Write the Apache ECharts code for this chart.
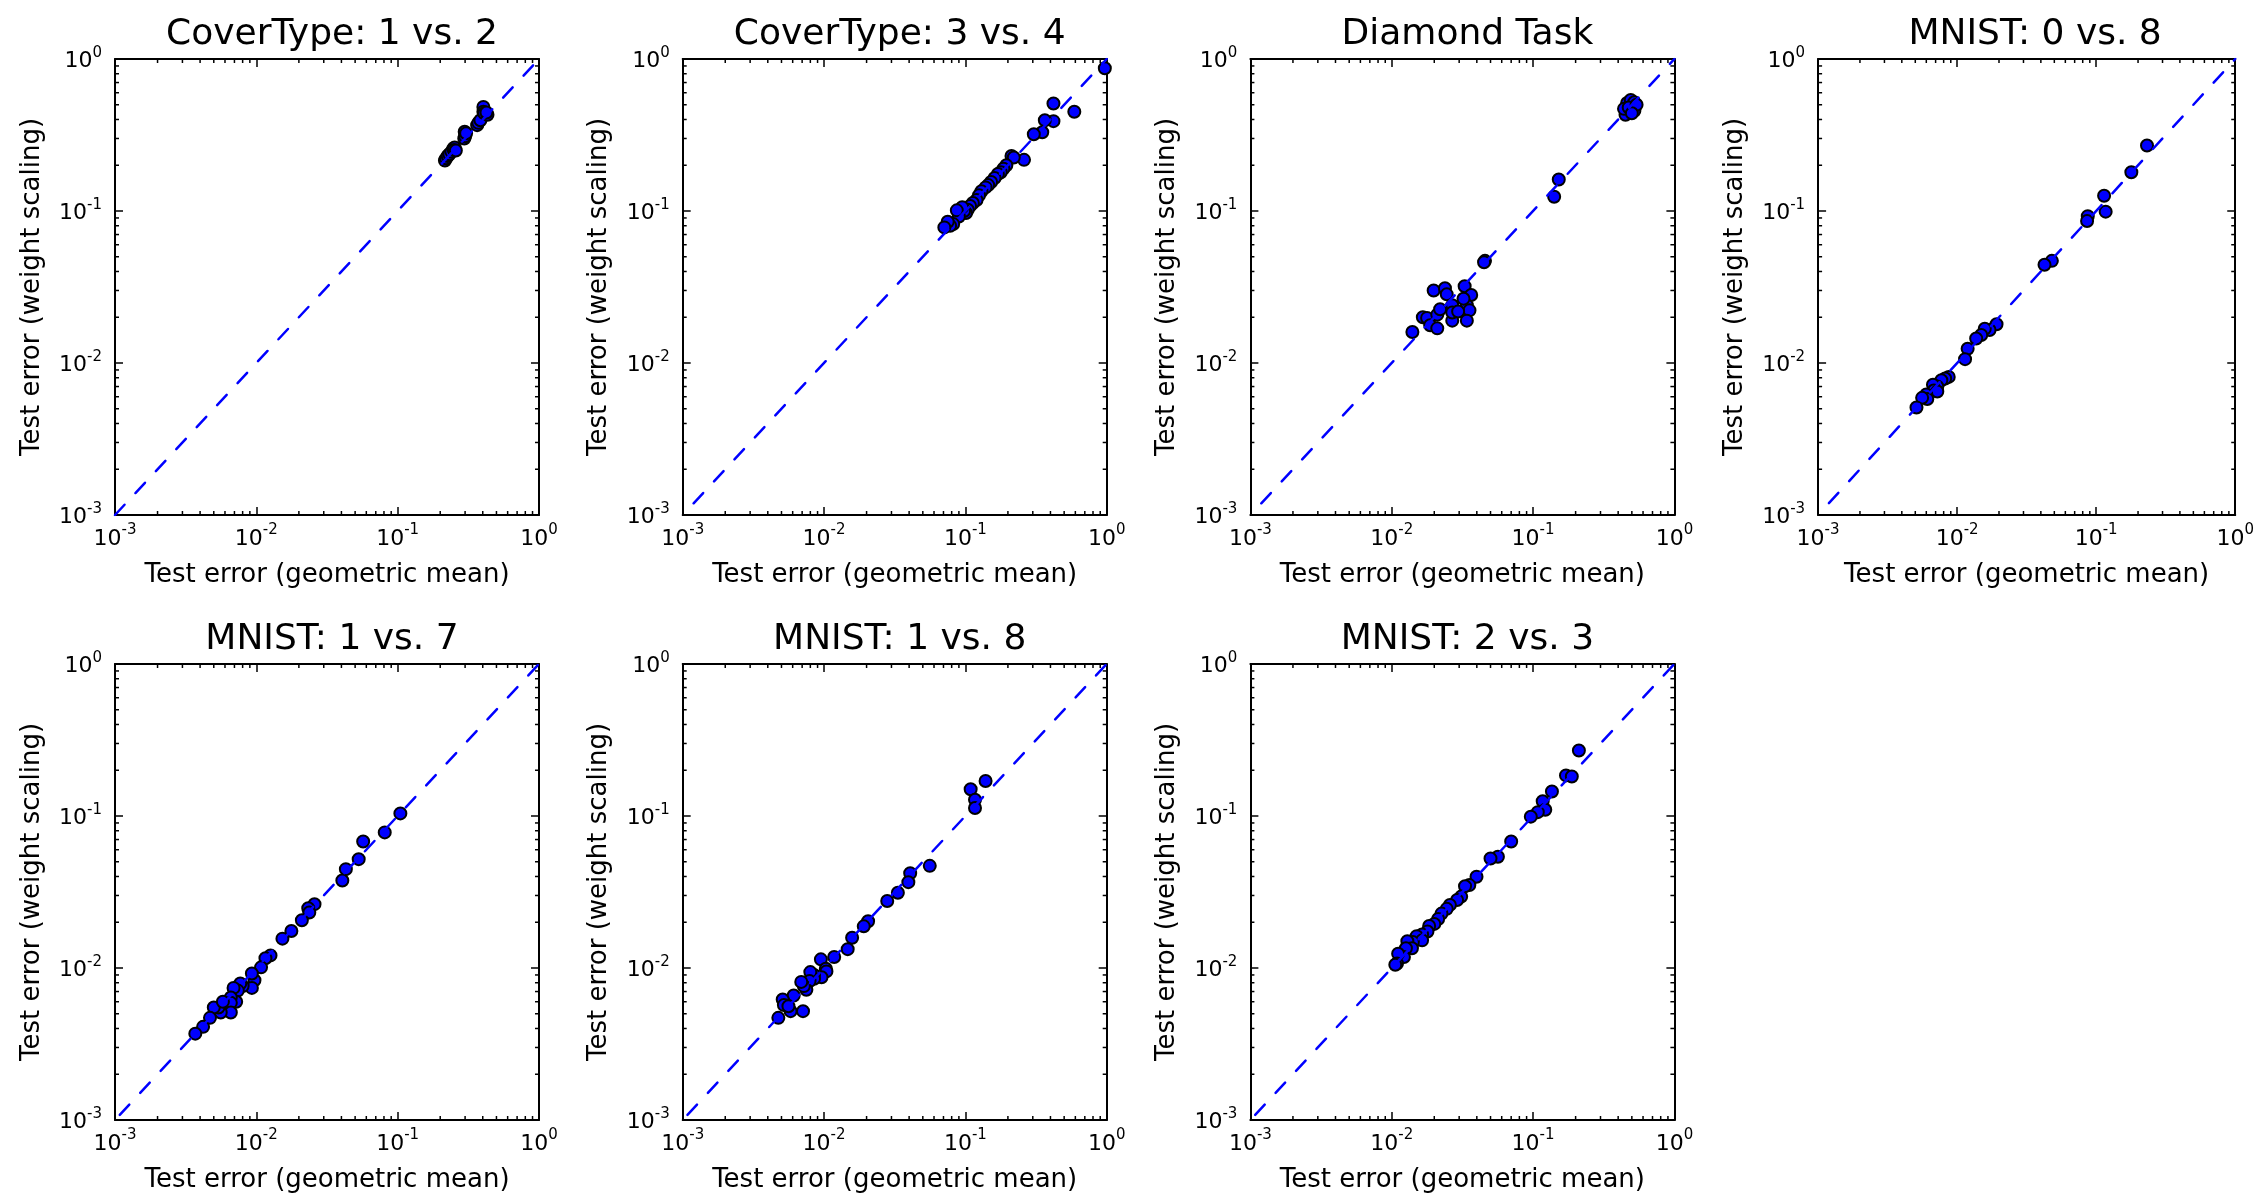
<!DOCTYPE html>
<html>
<head>
<meta charset="utf-8">
<script src="https://cdn.jsdelivr.net/npm/echarts@6/dist/echarts.min.js"></script>
<style>
  html, body { margin: 0; padding: 0; background: #fff; }
  #chart { width: 2257px; height: 1197px; }
</style>
</head>
<body>
<div id="chart"></div>
<script>
// panel titles
const titles = ['CoverType: 1 vs. 2', 'CoverType: 3 vs. 4', 'Diamond Task', 'MNIST: 0 vs. 8',
  'MNIST: 1 vs. 7', 'MNIST: 1 vs. 8', 'MNIST: 2 vs. 3']

// decade ticks shared by every axis
const decadeTicks = [0.001, 0.01, 0.1, 1]
const minorMults = [2, 3, 4, 5, 6, 7, 8, 9]

// [geometric mean, weight scaling] test errors
const coverType12 = [
  [0.216, 0.215], [0.220, 0.222], [0.226, 0.230], [0.232, 0.236], [0.240, 0.245], [0.248, 0.258],
  [0.253, 0.262], [0.250, 0.252], [0.258, 0.250], [0.296, 0.300], [0.300, 0.310], [0.298, 0.332],
  [0.305, 0.325], [0.365, 0.367], [0.372, 0.380], [0.385, 0.395], [0.404, 0.484], [0.404, 0.450],
  [0.410, 0.440], [0.432, 0.430], [0.425, 0.445]
]
const coverType34 = [
  [0.97, 0.87], [0.59, 0.45], [0.42, 0.51], [0.42, 0.39], [0.365, 0.395], [0.35, 0.33], [0.305, 0.32],
  [0.26, 0.217], [0.212, 0.23], [0.22, 0.225], [0.195, 0.2], [0.186, 0.19], [0.178, 0.18], [0.17, 0.175],
  [0.161, 0.165], [0.152, 0.155], [0.145, 0.148], [0.139, 0.143], [0.13, 0.135], [0.125, 0.127],
  [0.12, 0.118], [0.113, 0.113], [0.108, 0.108], [0.104, 0.102], [0.101, 0.097], [0.098, 0.1],
  [0.095, 0.106], [0.09, 0.092], [0.087, 0.101], [0.082, 0.082], [0.078, 0.08], [0.075, 0.085],
  [0.071, 0.078]
]
const diamond = [
  [0.463, 0.513], [0.491, 0.537], [0.52, 0.52], [0.451, 0.43], [0.521, 0.456], [0.44, 0.47],
  [0.475, 0.48], [0.54, 0.5], [0.5, 0.44], [0.152, 0.161], [0.141, 0.124], [0.0457, 0.047],
  [0.045, 0.046], [0.014, 0.016], [0.0166, 0.02], [0.0178, 0.0198], [0.0187, 0.0177], [0.021, 0.0169],
  [0.0198, 0.03], [0.0238, 0.031], [0.0245, 0.0283], [0.021, 0.0208], [0.022, 0.0226], [0.0268, 0.024],
  [0.0268, 0.019], [0.0268, 0.0215], [0.0328, 0.032], [0.0365, 0.028], [0.034, 0.024], [0.0355, 0.0222],
  [0.034, 0.019], [0.0322, 0.0265], [0.0295, 0.0218]
]
const mnist08 = [
  [0.232, 0.27], [0.179, 0.18], [0.114, 0.126], [0.117, 0.099], [0.087, 0.0925], [0.086, 0.086],
  [0.048, 0.047], [0.0425, 0.0443], [0.0192, 0.018], [0.0171, 0.0165], [0.0158, 0.0168], [0.0149, 0.0153],
  [0.0137, 0.0145], [0.0119, 0.0124], [0.0114, 0.0106], [0.0087, 0.0081], [0.0082, 0.0079],
  [0.0077, 0.0077], [0.0072, 0.007], [0.0067, 0.0072], [0.0068, 0.0066], [0.0072, 0.0065],
  [0.006, 0.0062], [0.0061, 0.0058], [0.0056, 0.0059], [0.0051, 0.0051]
]
const mnist17 = [
  [0.1045, 0.104], [0.081, 0.078], [0.057, 0.068], [0.053, 0.052], [0.043, 0.0447], [0.0406, 0.0376],
  [0.0258, 0.0263], [0.0233, 0.0247], [0.0237, 0.0232], [0.021, 0.0206], [0.0177, 0.0175],
  [0.0153, 0.0156], [0.0126, 0.0121], [0.0116, 0.0116], [0.0108, 0.0101], [0.0097, 0.0083],
  [0.0093, 0.0092], [0.0093, 0.0074], [0.008, 0.0076], [0.0077, 0.0079], [0.0074, 0.0071],
  [0.0069, 0.0074], [0.0072, 0.006], [0.0066, 0.0064], [0.0066, 0.0059], [0.0066, 0.0051],
  [0.0056, 0.0051], [0.0054, 0.0055], [0.005, 0.0055], [0.0058, 0.006], [0.0047, 0.0047],
  [0.0042, 0.0041], [0.0037, 0.0037]
]
const mnist18 = [
  [0.139, 0.17], [0.109, 0.15], [0.117, 0.128], [0.117, 0.113], [0.056, 0.047], [0.0407, 0.042],
  [0.0395, 0.0367], [0.0333, 0.0313], [0.028, 0.0276], [0.0205, 0.0203], [0.0191, 0.0188],
  [0.0158, 0.0158], [0.0147, 0.0133], [0.0118, 0.0118], [0.0095, 0.0114], [0.0103, 0.0099],
  [0.0104, 0.0095], [0.0096, 0.0087], [0.0085, 0.009], [0.0085, 0.0085], [0.008, 0.0094],
  [0.0079, 0.0082], [0.0075, 0.0072], [0.0072, 0.0076], [0.0069, 0.0081], [0.0071, 0.0052],
  [0.0061, 0.0066], [0.0058, 0.0052], [0.0051, 0.0062], [0.0052, 0.0057], [0.0056, 0.0056],
  [0.00475, 0.0047]
]
const mnist23 = [
  [0.211, 0.27], [0.171, 0.185], [0.188, 0.182], [0.136, 0.145], [0.117, 0.125], [0.122, 0.11],
  [0.108, 0.106], [0.0964, 0.099], [0.07, 0.068], [0.0564, 0.054], [0.05, 0.0525], [0.0398, 0.0398],
  [0.0354, 0.0351], [0.033, 0.0345], [0.031, 0.0295], [0.029, 0.028], [0.0258, 0.026], [0.0245, 0.0245],
  [0.0225, 0.0228], [0.0213, 0.021], [0.02, 0.0195], [0.0184, 0.0189], [0.0179, 0.0174],
  [0.0164, 0.0166], [0.015, 0.0162], [0.0164, 0.0152], [0.0141, 0.0148], [0.0129, 0.015],
  [0.0139, 0.0135], [0.0126, 0.0135], [0.0122, 0.0118], [0.0111, 0.0124], [0.0109, 0.0107],
  [0.0106, 0.0105]
]

const panels = [coverType12, coverType34, diamond, mnist08, mnist17, mnist18, mnist23]

// layout / style
const FONT = 'DejaVu Sans'
const dashOffsets = [0, 14, 14, 14, 23, 23, 23]
const boxW = 424
const boxH = 456
const colStep = 567.7

const minorTicks = []
decadeTicks.slice(0, 3).forEach(d => minorMults.forEach(m => minorTicks.push(m * d)))

function logLabel(v) {
  const e = Math.round(Math.log10(v))
  return '{b|10}{s|' + e + '}'
}
const labelRich = {
  b: { fontFamily: FONT, fontSize: 22, color: '#000', lineHeight: 27, verticalAlign: 'bottom' },
  s: { fontFamily: FONT, fontSize: 15, color: '#000', lineHeight: 16, verticalAlign: 'top' }
}

function makeAxis(gridIndex, position, withLabels, name, nameGap) {
  return {
    type: 'log',
    logBase: 10,
    min: decadeTicks[0],
    max: decadeTicks[decadeTicks.length - 1],
    gridIndex: gridIndex,
    position: position,
    name: withLabels ? name : '',
    nameLocation: 'middle',
    nameGap: nameGap,
    nameTextStyle: { fontFamily: FONT, fontSize: 26, color: '#000' },
    axisLine: { show: true, lineStyle: { color: '#000', width: 2 }},
    axisTick: { show: true, inside: true, length: 8, lineStyle: { color: '#000', width: 1.5 }},
    minorTick: { show: false },
    splitLine: { show: false },
    axisLabel: {
      show: withLabels,
      margin: position === 'bottom' ? 8 : 13,
      formatter: logLabel,
      rich: labelRich
    }
  }
}

function minorTickItem(params, api) {
  const v = api.value(0)
  const lo = decadeTicks[0]
  const hi = decadeTicks[decadeTicks.length - 1]
  const b = api.coord([v, lo])
  const t = api.coord([v, hi])
  const l = api.coord([lo, v])
  const r = api.coord([hi, v])
  const style = { stroke: '#000', lineWidth: 1.5 }
  const L = 4
  return {
    type: 'group',
    children: [
      { type: 'line', shape: { x1: b[0], y1: b[1], x2: b[0], y2: b[1] - L }, style: style },
      { type: 'line', shape: { x1: t[0], y1: t[1], x2: t[0], y2: t[1] + L }, style: style },
      { type: 'line', shape: { x1: l[0], y1: l[1], x2: l[0] + L, y2: l[1] }, style: style },
      { type: 'line', shape: { x1: r[0], y1: r[1], x2: r[0] - L, y2: r[1] }, style: style }
    ]
  }
}

const grid = []
const title = []
const xAxis = []
const yAxis = []
const series = []

panels.forEach((pts, i) => {
  const row = Math.floor(i / 4)
  const col = i % 4
  const left = 115 + col * colStep
  const top = row === 0 ? 59 : 664
  grid.push({ left: left, top: top, width: boxW, height: boxH, containLabel: false })
  title.push({
    text: titles[i],
    left: left + boxW / 2,
    top: top - 47,
    textAlign: 'center',
    textStyle: { fontFamily: FONT, fontSize: 36, fontWeight: 'normal', color: '#000' }
  })
  xAxis.push(makeAxis(i, 'bottom', true, 'Test error (geometric mean)', 47))
  xAxis.push(makeAxis(i, 'top', false, '', 0))
  yAxis.push(makeAxis(i, 'left', true, 'Test error (weight scaling)', 70))
  yAxis.push(makeAxis(i, 'right', false, '', 0))

  series.push({
    type: 'custom',
    xAxisIndex: i * 2,
    yAxisIndex: i * 2,
    silent: true,
    z: 1,
    data: minorTicks.map(v => [v, v]),
    renderItem: minorTickItem
  })
  series.push({
    type: 'scatter',
    xAxisIndex: i * 2,
    yAxisIndex: i * 2,
    symbol: 'circle',
    symbolSize: 12,
    z: 2,
    itemStyle: { color: '#0000ff', borderColor: '#000', borderWidth: 2, opacity: 1 },
    data: pts
  })
  series.push({
    type: 'line',
    xAxisIndex: i * 2,
    yAxisIndex: i * 2,
    symbol: 'none',
    z: 3,
    silent: true,
    lineStyle: { color: '#0000ff', width: 2.5, type: [14, 16], dashOffset: dashOffsets[i], cap: 'round' },
    data: [[decadeTicks[0], decadeTicks[0]], [decadeTicks[3], decadeTicks[3]]]
  })
})

const chart = echarts.init(document.getElementById('chart'))
chart.setOption({
  animation: false,
  backgroundColor: '#fff',
  title: title,
  grid: grid,
  xAxis: xAxis,
  yAxis: yAxis,
  series: series
})
</script>
</body>
</html>
